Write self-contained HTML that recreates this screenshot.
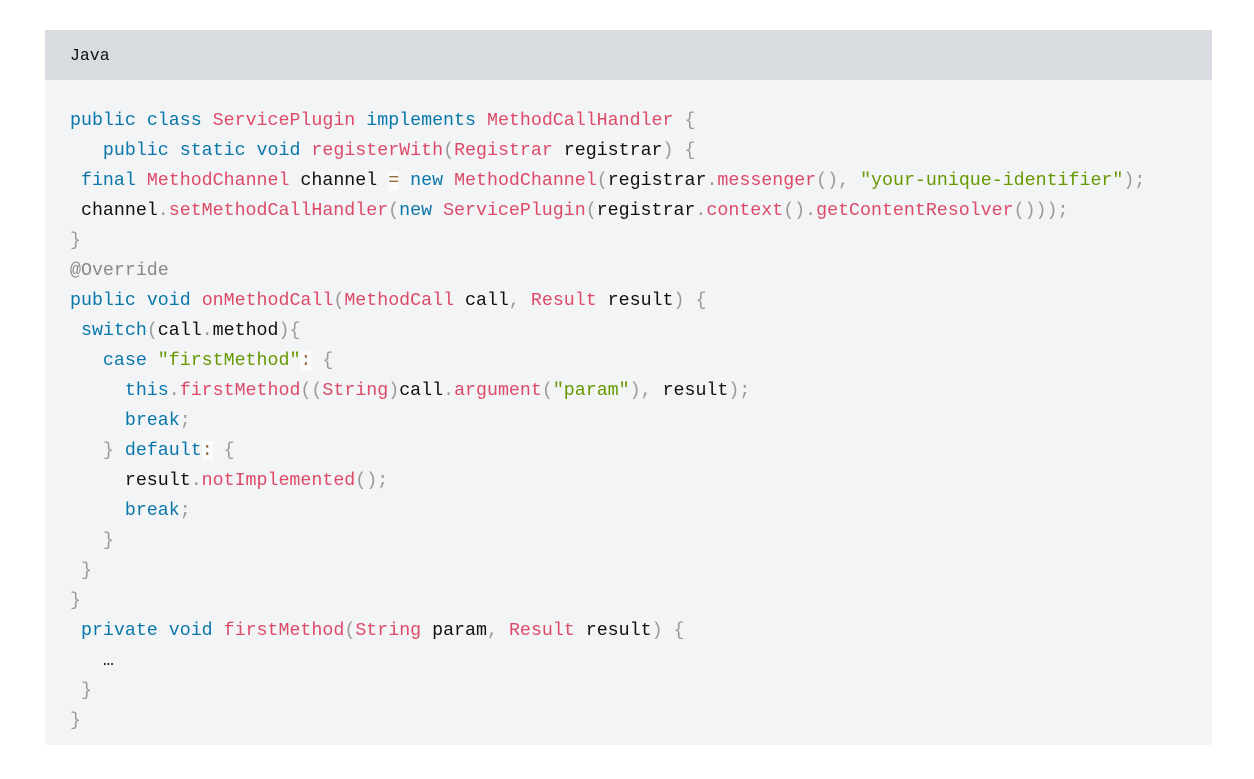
<!DOCTYPE html>
<html><head><meta charset="utf-8"><style>
html,body{margin:0;padding:0;background:#fff;width:1254px;height:779px;overflow:hidden}
.hdr{position:absolute;left:45px;top:30px;width:1167px;height:50px;background:#d8dbe0}
.hdr span{position:absolute;left:25px;top:16px;font:16.5px "Liberation Mono",monospace;color:#111}
.box{position:absolute;left:45px;top:80px;width:1167px;height:665px;background:#f3f4f6}
pre{position:absolute;left:70px;top:106px;margin:0;font-family:"Liberation Mono",monospace;font-size:18.3px;line-height:30px;color:#111;white-space:pre}
.k{color:#0a77aa}.r{color:#dd4a68}.p{color:#999}.s{color:#669900}.o{color:#9a6e3a;background:rgba(255,255,255,.6)}.c{color:#888}
</style></head><body>
<div class="hdr"><span>Java</span></div>
<div class="box"></div>
<pre><span class="k">public</span> <span class="k">class</span> <span class="r">ServicePlugin</span> <span class="k">implements</span> <span class="r">MethodCallHandler</span> <span class="p">{</span>
   <span class="k">public</span> <span class="k">static</span> <span class="k">void</span> <span class="r">registerWith</span><span class="p">(</span><span class="r">Registrar</span> registrar<span class="p">)</span> <span class="p">{</span>
 <span class="k">final</span> <span class="r">MethodChannel</span> channel <span class="o">=</span> <span class="k">new</span> <span class="r">MethodChannel</span><span class="p">(</span>registrar<span class="p">.</span><span class="r">messenger</span><span class="p">(),</span> <span class="s">"your-unique-identifier"</span><span class="p">);</span>
 channel<span class="p">.</span><span class="r">setMethodCallHandler</span><span class="p">(</span><span class="k">new</span> <span class="r">ServicePlugin</span><span class="p">(</span>registrar<span class="p">.</span><span class="r">context</span><span class="p">().</span><span class="r">getContentResolver</span><span class="p">()));</span>
<span class="p">}</span>
<span class="c">@Override</span>
<span class="k">public</span> <span class="k">void</span> <span class="r">onMethodCall</span><span class="p">(</span><span class="r">MethodCall</span> call<span class="p">,</span> <span class="r">Result</span> result<span class="p">)</span> <span class="p">{</span>
 <span class="k">switch</span><span class="p">(</span>call<span class="p">.</span>method<span class="p">){</span>
   <span class="k">case</span> <span class="s">"firstMethod"</span><span class="o">:</span> <span class="p">{</span>
     <span class="k">this</span><span class="p">.</span><span class="r">firstMethod</span><span class="p">((</span><span class="r">String</span><span class="p">)</span>call<span class="p">.</span><span class="r">argument</span><span class="p">(</span><span class="s">"param"</span><span class="p">),</span> result<span class="p">);</span>
     <span class="k">break</span><span class="p">;</span>
   <span class="p">}</span> <span class="k">default</span><span class="o">:</span> <span class="p">{</span>
     result<span class="p">.</span><span class="r">notImplemented</span><span class="p">();</span>
     <span class="k">break</span><span class="p">;</span>
   <span class="p">}</span>
 <span class="p">}</span>
<span class="p">}</span>
 <span class="k">private</span> <span class="k">void</span> <span class="r">firstMethod</span><span class="p">(</span><span class="r">String</span> param<span class="p">,</span> <span class="r">Result</span> result<span class="p">)</span> <span class="p">{</span>
   …
 <span class="p">}</span>
<span class="p">}</span></pre>
</body></html>
